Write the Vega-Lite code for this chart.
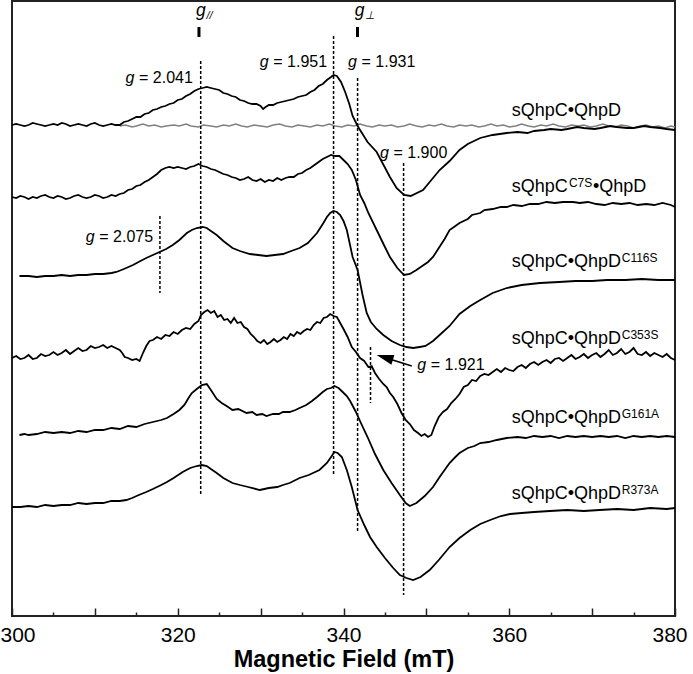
{
"$schema":"https://vega.github.io/schema/vega-lite/v6.json",
"width":663,"height":615,
"autosize":{"type":"none"},
"padding":{"left":12,"top":1,"right":18,"bottom":58},
"background":"white",
"config":{"view":{"stroke":"#222","strokeWidth":2},"font":"Liberation Sans"},
"datasets":{
"buffer":[{"f":313,"v":490},{"f":313.7,"v":491},{"f":314.5,"v":489},{"f":315,"v":490},{"f":315.8,"v":492},{"f":316.5,"v":490},{"f":317.2,"v":491},{"f":318,"v":489},{"f":318.6,"v":490},{"f":319.5,"v":491},{"f":320.2,"v":490},{"f":321,"v":492},{"f":321.6,"v":490},{"f":322.5,"v":489},{"f":323.1,"v":491},{"f":324,"v":490},{"f":324.7,"v":489},{"f":325.5,"v":491},{"f":326.2,"v":490},{"f":327,"v":492},{"f":327.7,"v":490},{"f":328.4,"v":489},{"f":329.2,"v":491},{"f":330,"v":490},{"f":330.8,"v":489},{"f":331.5,"v":491},{"f":332.3,"v":492},{"f":333,"v":490},{"f":333.8,"v":489},{"f":334.5,"v":491},{"f":335.3,"v":490},{"f":336,"v":489},{"f":336.8,"v":491},{"f":337.5,"v":490},{"f":338.3,"v":492},{"f":339,"v":490},{"f":339.8,"v":489},{"f":340.5,"v":491},{"f":341.3,"v":490},{"f":342,"v":492},{"f":342.8,"v":490},{"f":343.5,"v":489},{"f":344.3,"v":491},{"f":345,"v":490},{"f":345.8,"v":491},{"f":346.5,"v":489},{"f":347.3,"v":490},{"f":348,"v":492},{"f":348.8,"v":490},{"f":349.5,"v":489},{"f":350.3,"v":491},{"f":351,"v":490},{"f":351.8,"v":492},{"f":352.5,"v":490},{"f":353.3,"v":489},{"f":354,"v":491},{"f":354.8,"v":490},{"f":355.5,"v":491},{"f":356.3,"v":489},{"f":357,"v":490},{"f":357.8,"v":492},{"f":358.5,"v":490},{"f":359.3,"v":491},{"f":360,"v":489},{"f":360.8,"v":490},{"f":361.5,"v":492},{"f":362.3,"v":490},{"f":363,"v":489},{"f":363.8,"v":491},{"f":364.5,"v":490},{"f":365.3,"v":492},{"f":366,"v":490},{"f":366.8,"v":489},{"f":367.5,"v":491},{"f":368.3,"v":490},{"f":369,"v":491},{"f":369.8,"v":489},{"f":370.5,"v":490},{"f":371.3,"v":492},{"f":372,"v":490},{"f":372.8,"v":489},{"f":373.5,"v":491},{"f":374.3,"v":490},{"f":375,"v":488},{"f":375.8,"v":490},{"f":376.5,"v":491},{"f":377.3,"v":489},{"f":378,"v":490},{"f":378.8,"v":488},{"f":379.5,"v":490},{"f":380,"v":489}],
"wt":[{"f":300,"v":491},{"f":300.5,"v":492},{"f":301,"v":491},{"f":301.5,"v":490},{"f":302,"v":491},{"f":302.5,"v":493},{"f":303,"v":492},{"f":303.5,"v":491},{"f":304,"v":490},{"f":304.5,"v":491},{"f":305,"v":492},{"f":305.5,"v":491},{"f":306,"v":493},{"f":306.5,"v":492},{"f":307,"v":490},{"f":307.5,"v":491},{"f":308,"v":492},{"f":308.5,"v":491},{"f":309,"v":490},{"f":309.5,"v":492},{"f":310,"v":493},{"f":310.5,"v":491},{"f":311,"v":490},{"f":311.5,"v":491},{"f":312,"v":492},{"f":312.5,"v":491},{"f":313,"v":491},{"f":313.5,"v":494},{"f":314,"v":495},{"f":314.5,"v":497},{"f":315,"v":499},{"f":315.5,"v":499},{"f":316,"v":502},{"f":316.5,"v":503},{"f":317,"v":506},{"f":317.5,"v":507},{"f":318,"v":509},{"f":318.5,"v":510},{"f":319,"v":512},{"f":319.5,"v":513},{"f":320,"v":516},{"f":320.5,"v":517},{"f":321,"v":520},{"f":321.5,"v":522},{"f":322,"v":525},{"f":322.5,"v":527},{"f":323,"v":528},{"f":323.5,"v":529},{"f":324,"v":528},{"f":324.5,"v":527},{"f":325,"v":526},{"f":325.5,"v":523},{"f":326,"v":522},{"f":326.5,"v":520},{"f":327,"v":519},{"f":327.5,"v":516},{"f":328,"v":515},{"f":328.5,"v":513},{"f":329,"v":512},{"f":329.5,"v":512},{"f":330,"v":510},{"f":330.3,"v":507},{"f":330.6,"v":509},{"f":331,"v":511},{"f":331.5,"v":511},{"f":332,"v":513},{"f":332.5,"v":514},{"f":333,"v":515},{"f":333.5,"v":516},{"f":334,"v":517},{"f":334.5,"v":519},{"f":335,"v":520},{"f":335.5,"v":521},{"f":336,"v":524},{"f":336.5,"v":526},{"f":337,"v":530},{"f":337.5,"v":532},{"f":338,"v":536},{"f":338.5,"v":539},{"f":338.8,"v":541},{"f":339.2,"v":540},{"f":339.7,"v":534},{"f":340.2,"v":524},{"f":340.7,"v":512},{"f":341.1,"v":500},{"f":341.7,"v":490},{"f":342.3,"v":482},{"f":342.9,"v":474},{"f":344,"v":464},{"f":344.9,"v":450},{"f":345.6,"v":439},{"f":346.4,"v":428},{"f":347.3,"v":421},{"f":348.1,"v":420},{"f":349.6,"v":426},{"f":350.5,"v":435},{"f":351.6,"v":446},{"f":352.8,"v":455},{"f":354,"v":466},{"f":355,"v":472},{"f":356.5,"v":478},{"f":358,"v":481},{"f":359.7,"v":483},{"f":361,"v":484},{"f":362.2,"v":483},{"f":363,"v":485},{"f":364.2,"v":486},{"f":365,"v":487},{"f":366.3,"v":486},{"f":367,"v":487},{"f":368.2,"v":489},{"f":369,"v":488},{"f":370.3,"v":487},{"f":371,"v":488},{"f":372.2,"v":490},{"f":373,"v":489},{"f":374.2,"v":488},{"f":375,"v":488},{"f":376.3,"v":490},{"f":377,"v":489},{"f":378.2,"v":488},{"f":379,"v":487},{"f":380,"v":486}],
"c7s":[{"f":300,"v":419},{"f":300.5,"v":418},{"f":301,"v":420},{"f":301.5,"v":419},{"f":302,"v":417},{"f":302.5,"v":419},{"f":303,"v":418},{"f":303.5,"v":420},{"f":304,"v":421},{"f":304.5,"v":419},{"f":305,"v":418},{"f":305.5,"v":420},{"f":306,"v":419},{"f":306.5,"v":417},{"f":307,"v":418},{"f":307.5,"v":420},{"f":308,"v":421},{"f":308.5,"v":419},{"f":309,"v":418},{"f":309.5,"v":419},{"f":310,"v":421},{"f":310.5,"v":420},{"f":311,"v":418},{"f":311.5,"v":419},{"f":312,"v":421},{"f":312.5,"v":420},{"f":313,"v":422},{"f":313.5,"v":423},{"f":314,"v":426},{"f":314.5,"v":427},{"f":315,"v":430},{"f":315.5,"v":431},{"f":316,"v":434},{"f":316.5,"v":436},{"f":317,"v":439},{"f":317.5,"v":442},{"f":318,"v":446},{"f":318.5,"v":448},{"f":319,"v":449},{"f":319.5,"v":448},{"f":320,"v":449},{"f":320.5,"v":448},{"f":321,"v":447},{"f":321.5,"v":449},{"f":322,"v":450},{"f":322.5,"v":452},{"f":323,"v":450},{"f":323.5,"v":449},{"f":324,"v":447},{"f":324.5,"v":446},{"f":325,"v":444},{"f":325.5,"v":442},{"f":326,"v":441},{"f":326.5,"v":439},{"f":327,"v":438},{"f":327.5,"v":436},{"f":328,"v":437},{"f":328.5,"v":439},{"f":329,"v":436},{"f":329.5,"v":435},{"f":330,"v":437},{"f":330.5,"v":434},{"f":331,"v":436},{"f":331.5,"v":435},{"f":332,"v":438},{"f":332.5,"v":436},{"f":333,"v":438},{"f":333.5,"v":439},{"f":334,"v":439},{"f":334.5,"v":442},{"f":335,"v":443},{"f":335.5,"v":446},{"f":336,"v":448},{"f":336.5,"v":451},{"f":337,"v":454},{"f":337.5,"v":457},{"f":338,"v":459},{"f":338.5,"v":461},{"f":339,"v":460},{"f":339.5,"v":460},{"f":340,"v":456},{"f":340.5,"v":452},{"f":341,"v":446},{"f":341.5,"v":436},{"f":342,"v":421},{"f":342.5,"v":413},{"f":343,"v":403},{"f":344,"v":386},{"f":345,"v":369},{"f":345.6,"v":359},{"f":346.5,"v":348},{"f":347.3,"v":341},{"f":348,"v":342},{"f":348.8,"v":346},{"f":349.5,"v":350},{"f":350.2,"v":354},{"f":350.8,"v":359},{"f":351.5,"v":368},{"f":352.2,"v":377},{"f":352.8,"v":386},{"f":353.5,"v":390},{"f":354,"v":393},{"f":355,"v":397},{"f":355.5,"v":401},{"f":356.5,"v":403},{"f":357,"v":406},{"f":358,"v":407},{"f":359,"v":409},{"f":359.7,"v":409},{"f":360.5,"v":411},{"f":361.5,"v":410},{"f":362.5,"v":412},{"f":363.5,"v":412},{"f":364.5,"v":414},{"f":365.5,"v":413},{"f":366.5,"v":414},{"f":367.7,"v":414},{"f":368.5,"v":413},{"f":369.5,"v":414},{"f":370.5,"v":412},{"f":371.5,"v":411},{"f":372.5,"v":413},{"f":373.5,"v":412},{"f":374.5,"v":413},{"f":375.5,"v":411},{"f":376.5,"v":412},{"f":377.5,"v":411},{"f":378.5,"v":413},{"f":379.5,"v":411},{"f":380,"v":409}],
"c116s":[{"f":300.9,"v":340},{"f":302,"v":340},{"f":303,"v":339},{"f":304,"v":340},{"f":305,"v":340},{"f":306,"v":341},{"f":307,"v":340},{"f":308,"v":341},{"f":309,"v":341},{"f":310,"v":342},{"f":311,"v":342},{"f":312,"v":343},{"f":312.6,"v":344},{"f":313.5,"v":347},{"f":314.6,"v":351},{"f":315.5,"v":355},{"f":316.2,"v":358},{"f":317,"v":361},{"f":317.8,"v":364},{"f":318.6,"v":367},{"f":319.4,"v":371},{"f":320.2,"v":376},{"f":321.1,"v":383},{"f":321.7,"v":386},{"f":322.3,"v":388},{"f":323,"v":389},{"f":323.5,"v":388},{"f":324,"v":385},{"f":324.7,"v":381},{"f":325.5,"v":375},{"f":326.6,"v":368},{"f":327.5,"v":365},{"f":328.7,"v":362},{"f":329.7,"v":361},{"f":330.7,"v":360},{"f":331.7,"v":361},{"f":332.7,"v":362},{"f":333.7,"v":365},{"f":334.7,"v":368},{"f":335.7,"v":373},{"f":336.8,"v":383},{"f":337.5,"v":392},{"f":338,"v":399},{"f":338.4,"v":403},{"f":338.8,"v":405},{"f":339.2,"v":404},{"f":339.6,"v":401},{"f":340,"v":395},{"f":340.4,"v":386},{"f":341.1,"v":359},{"f":341.7,"v":346},{"f":342.3,"v":321},{"f":342.8,"v":303},{"f":343.3,"v":294},{"f":344,"v":287},{"f":344.8,"v":281},{"f":345.8,"v":275},{"f":346.8,"v":271},{"f":347.6,"v":269},{"f":348.4,"v":268},{"f":349.2,"v":269},{"f":349.9,"v":270},{"f":350.8,"v":275},{"f":351.6,"v":281},{"f":352.8,"v":290},{"f":354,"v":302},{"f":355.3,"v":310},{"f":356.5,"v":316},{"f":358,"v":323},{"f":359.7,"v":328},{"f":361.5,"v":331},{"f":363.7,"v":333},{"f":366,"v":334},{"f":368,"v":335},{"f":370,"v":335},{"f":371.8,"v":336},{"f":374,"v":336},{"f":376,"v":337},{"f":378,"v":336},{"f":380,"v":336}],
"c353s":[{"f":300,"v":258},{"f":300.5,"v":260},{"f":301,"v":257},{"f":301.5,"v":258},{"f":302,"v":261},{"f":302.5,"v":257},{"f":303,"v":258},{"f":303.5,"v":262},{"f":304,"v":260},{"f":304.5,"v":261},{"f":305,"v":264},{"f":305.5,"v":261},{"f":306,"v":263},{"f":306.5,"v":266},{"f":307,"v":262},{"f":307.5,"v":265},{"f":308,"v":268},{"f":308.5,"v":265},{"f":309,"v":266},{"f":309.5,"v":270},{"f":310,"v":268},{"f":310.5,"v":269},{"f":311,"v":271},{"f":311.5,"v":268},{"f":312,"v":270},{"f":312.5,"v":268},{"f":313,"v":266},{"f":313.3,"v":263},{"f":313.6,"v":259},{"f":314,"v":258},{"f":314.5,"v":256},{"f":315,"v":257},{"f":315.4,"v":255},{"f":315.8,"v":263},{"f":316.2,"v":270},{"f":316.6,"v":275},{"f":317,"v":276},{"f":317.5,"v":279},{"f":318,"v":277},{"f":318.5,"v":281},{"f":319,"v":280},{"f":319.5,"v":284},{"f":320,"v":282},{"f":320.5,"v":286},{"f":321,"v":288},{"f":321.5,"v":287},{"f":322,"v":292},{"f":322.5,"v":295},{"f":322.8,"v":301},{"f":323.2,"v":304},{"f":323.6,"v":306},{"f":324,"v":303},{"f":324.4,"v":305},{"f":324.8,"v":299},{"f":325.2,"v":301},{"f":325.6,"v":296},{"f":326,"v":297},{"f":326.4,"v":293},{"f":326.8,"v":298},{"f":327.2,"v":293},{"f":327.6,"v":294},{"f":328,"v":289},{"f":328.4,"v":287},{"f":328.8,"v":282},{"f":329.2,"v":279},{"f":329.6,"v":275},{"f":330,"v":273},{"f":330.4,"v":276},{"f":330.8,"v":272},{"f":331.2,"v":274},{"f":331.6,"v":277},{"f":332,"v":274},{"f":332.4,"v":276},{"f":332.8,"v":279},{"f":333.2,"v":277},{"f":333.6,"v":282},{"f":334,"v":280},{"f":334.4,"v":284},{"f":334.8,"v":282},{"f":335.2,"v":285},{"f":335.6,"v":287},{"f":336,"v":286},{"f":336.4,"v":291},{"f":336.8,"v":294},{"f":337.2,"v":293},{"f":337.6,"v":298},{"f":338,"v":299},{"f":338.4,"v":302},{"f":338.8,"v":300},{"f":339.2,"v":299},{"f":339.6,"v":293},{"f":340,"v":287},{"f":340.5,"v":279},{"f":341,"v":269},{"f":341.5,"v":264},{"f":342,"v":258},{"f":342.5,"v":255},{"f":343,"v":249},{"f":343.4,"v":250},{"f":343.8,"v":243},{"f":344.3,"v":237},{"f":344.8,"v":232},{"f":345.2,"v":229},{"f":345.6,"v":223},{"f":346,"v":219},{"f":346.5,"v":212},{"f":347,"v":203},{"f":347.5,"v":196},{"f":348,"v":192},{"f":348.5,"v":186},{"f":349,"v":183},{"f":349.4,"v":180},{"f":349.8,"v":182},{"f":350.2,"v":179},{"f":350.6,"v":181},{"f":351,"v":190},{"f":351.5,"v":199},{"f":352,"v":204},{"f":352.5,"v":207},{"f":353,"v":213},{"f":353.5,"v":217},{"f":354,"v":222},{"f":354.5,"v":229},{"f":355,"v":231},{"f":355.5,"v":236},{"f":356,"v":235},{"f":356.5,"v":240},{"f":357,"v":242},{"f":357.5,"v":241},{"f":358,"v":244},{"f":358.5,"v":247},{"f":359,"v":244},{"f":359.5,"v":248},{"f":360,"v":246},{"f":360.5,"v":245},{"f":361,"v":249},{"f":361.5,"v":251},{"f":362,"v":248},{"f":362.5,"v":252},{"f":363,"v":254},{"f":363.5,"v":251},{"f":364,"v":254},{"f":364.5,"v":256},{"f":365,"v":253},{"f":365.5,"v":257},{"f":366,"v":258},{"f":366.5,"v":255},{"f":367,"v":258},{"f":367.5,"v":261},{"f":368,"v":257},{"f":368.5,"v":259},{"f":369,"v":262},{"f":369.5,"v":258},{"f":370,"v":261},{"f":370.5,"v":263},{"f":371,"v":259},{"f":371.5,"v":262},{"f":372,"v":266},{"f":372.5,"v":261},{"f":373,"v":263},{"f":373.5,"v":267},{"f":374,"v":262},{"f":374.5,"v":264},{"f":375,"v":268},{"f":375.5,"v":262},{"f":376,"v":261},{"f":376.5,"v":264},{"f":377,"v":260},{"f":377.5,"v":263},{"f":378,"v":261},{"f":378.5,"v":259},{"f":379,"v":262},{"f":379.5,"v":258},{"f":380,"v":256}],
"g161a":[{"f":300.9,"v":181},{"f":301.5,"v":182},{"f":302,"v":181},{"f":303,"v":182},{"f":304,"v":184},{"f":305,"v":183},{"f":306,"v":184},{"f":307,"v":183},{"f":308,"v":185},{"f":309,"v":184},{"f":310,"v":186},{"f":311,"v":186},{"f":312,"v":188},{"f":313,"v":187},{"f":314,"v":190},{"f":315,"v":189},{"f":316,"v":192},{"f":317,"v":194},{"f":318,"v":196},{"f":318.7,"v":198},{"f":319.5,"v":202},{"f":320.2,"v":206},{"f":320.8,"v":211},{"f":321.3,"v":218},{"f":321.7,"v":223},{"f":322.3,"v":227},{"f":322.9,"v":231},{"f":323.5,"v":232},{"f":324,"v":226},{"f":324.7,"v":217},{"f":325.3,"v":213},{"f":325.9,"v":210},{"f":326.6,"v":206},{"f":327.3,"v":207},{"f":328.3,"v":203},{"f":329,"v":204},{"f":329.5,"v":201},{"f":330.2,"v":202},{"f":330.7,"v":200},{"f":331.5,"v":202},{"f":332.2,"v":202},{"f":332.7,"v":204},{"f":333.5,"v":204},{"f":334.2,"v":206},{"f":334.7,"v":208},{"f":335.5,"v":211},{"f":336.2,"v":215},{"f":336.8,"v":219},{"f":337.5,"v":224},{"f":338,"v":227},{"f":338.5,"v":228},{"f":338.9,"v":230},{"f":339.4,"v":228},{"f":339.9,"v":224},{"f":340.4,"v":220},{"f":340.8,"v":215},{"f":341.5,"v":204},{"f":342.1,"v":193},{"f":342.9,"v":179},{"f":343.8,"v":162},{"f":344.8,"v":146},{"f":345.8,"v":133},{"f":346.8,"v":121},{"f":347.5,"v":113},{"f":348,"v":110},{"f":348.8,"v":113},{"f":349.8,"v":120},{"f":350.8,"v":129},{"f":351.6,"v":139},{"f":352.2,"v":146},{"f":352.8,"v":153},{"f":353.5,"v":159},{"f":354,"v":163},{"f":355,"v":168},{"f":355.8,"v":170},{"f":356.5,"v":173},{"f":357.5,"v":174},{"f":358.5,"v":176},{"f":359.7,"v":178},{"f":361,"v":179},{"f":362,"v":178},{"f":363,"v":180},{"f":364,"v":179},{"f":365,"v":180},{"f":366,"v":178},{"f":367,"v":180},{"f":368,"v":179},{"f":369,"v":180},{"f":370,"v":179},{"f":371,"v":180},{"f":372,"v":179},{"f":373,"v":180},{"f":374,"v":178},{"f":375,"v":180},{"f":376,"v":179},{"f":377,"v":180},{"f":378,"v":179},{"f":379,"v":180},{"f":380,"v":179}],
"r373a":[{"f":300,"v":109},{"f":301,"v":109},{"f":302,"v":110},{"f":303,"v":109},{"f":304,"v":111},{"f":305,"v":110},{"f":306,"v":111},{"f":307,"v":111},{"f":308,"v":113},{"f":309,"v":112},{"f":310,"v":113},{"f":311,"v":113},{"f":312,"v":115},{"f":313,"v":115},{"f":313.8,"v":116},{"f":314.5,"v":118},{"f":315.3,"v":121},{"f":316.2,"v":124},{"f":317,"v":127},{"f":318,"v":131},{"f":318.7,"v":134},{"f":319.5,"v":138},{"f":320.6,"v":144},{"f":321.5,"v":148},{"f":322.3,"v":150},{"f":322.9,"v":151},{"f":323.5,"v":150},{"f":324,"v":147},{"f":324.7,"v":143},{"f":325.5,"v":138},{"f":326.6,"v":133},{"f":327.5,"v":131},{"f":328.5,"v":129},{"f":329.9,"v":126},{"f":331,"v":128},{"f":332,"v":129},{"f":332.7,"v":131},{"f":333.5,"v":133},{"f":334.7,"v":138},{"f":335.8,"v":141},{"f":337.1,"v":146},{"f":338,"v":153},{"f":338.5,"v":159},{"f":338.9,"v":164},{"f":339.3,"v":163},{"f":339.8,"v":159},{"f":340.4,"v":146},{"f":341,"v":129},{"f":341.7,"v":106},{"f":342.5,"v":91},{"f":343.2,"v":79},{"f":344,"v":69},{"f":345,"v":58},{"f":346,"v":48},{"f":346.8,"v":41},{"f":347.6,"v":38},{"f":348.4,"v":36},{"f":349.3,"v":39},{"f":350.4,"v":46},{"f":351.5,"v":56},{"f":352.8,"v":69},{"f":354,"v":78},{"f":355.3,"v":86},{"f":356.5,"v":92},{"f":357.7,"v":96},{"f":359,"v":100},{"f":360.1,"v":102},{"f":361.5,"v":103},{"f":363,"v":104},{"f":364.9,"v":105},{"f":367,"v":106},{"f":369,"v":105},{"f":370.9,"v":106},{"f":373,"v":107},{"f":375,"v":106},{"f":377,"v":108},{"f":379,"v":107},{"f":380,"v":108}],
"dash":[{"f":322.77,"v":555,"v2":121},{"f":338.8,"v":580,"v2":140},{"f":341.7,"v":538,"v2":83},{"f":347.25,"v":453,"v2":21},{"f":317.85,"v":400,"v2":323},{"f":343.26,"v":269,"v2":213}],
"bars":[{"f":322.56,"v":589,"v2":579},{"f":341.69,"v":589,"v2":579}],
"heads":[{"f":322.56,"v":600,"t":"g","sub":"//","sv":597},{"f":341.69,"v":600,"t":"g","sub":"⊥","sv":597}],
"glab":[{"f":313.7,"v":533,"t":"= 2.041"},{"f":329.9,"v":549,"t":"= 1.951"},{"f":340.55,"v":549,"t":"= 1.931"},{"f":344.4,"v":458,"t":"= 1.900"},{"f":308.9,"v":374,"t":"= 2.075"},{"f":348.9,"v":246,"t":"= 1.921"}],
"arrow":[{"f":344.4,"v":260,"f2":348.24,"v2":250}],
"arrowhead":[{"f":344.0,"v":261}],
"labels":[{"f":360.3,"v":500,"t":"sQhpC•QhpD"},{"f":360.3,"v":424,"t":"sQhpC"},{"f":370.1,"v":424,"t":"•QhpD"},{"f":360.3,"v":349,"t":"sQhpC•QhpD"},{"f":360.3,"v":272,"t":"sQhpC•QhpD"},{"f":360.3,"v":193,"t":"sQhpC•QhpD"},{"f":360.3,"v":117,"t":"sQhpC•QhpD"}],
"sups":[{"f":367.2,"v":429,"t":"C7S"},{"f":373.57,"v":354,"t":"C116S"},{"f":373.57,"v":277,"t":"C353S"},{"f":373.57,"v":198,"t":"G161A"},{"f":373.57,"v":122,"t":"R373A"}]
},
"layer":[
{"data":{"name":"buffer"},"mark":{"type":"line","color":"#808080","strokeWidth":1.5},
 "encoding":{"x":{"field":"f","type":"quantitative","scale":{"domain":[300,380],"nice":false,"zero":false},
   "axis":{"values":[300,305,310,315,320,325,330,335,340,345,350,355,360,365,370,375,380],
     "labelExpr":"datum.value % 20 === 0 ? datum.label : ''",
     "tickSize":{"condition":{"test":"datum.value % 10 === 0","value":-8},"value":-4},
     "tickColor":"#222","tickWidth":1.5,"domain":false,"grid":false,"labelFlush":true,"labelFlushOffset":12,
     "labelFontSize":21,"labelColor":"black","labelPadding":16,
     "title":"Magnetic Field (mT)","titleFont":"Liberation Sans","titleFontWeight":"bold","titleFontSize":23.5,"titleColor":"black","titlePadding":2}},
  "y":{"field":"v","type":"quantitative","scale":{"domain":[0,615],"nice":false,"zero":false},"axis":null}}},
{"data":{"name":"wt"},"mark":{"type":"line","color":"black","strokeWidth":1.8},"encoding":{"x":{"field":"f","type":"quantitative"},"y":{"field":"v","type":"quantitative"}}},
{"data":{"name":"c7s"},"mark":{"type":"line","color":"black","strokeWidth":1.8},"encoding":{"x":{"field":"f","type":"quantitative"},"y":{"field":"v","type":"quantitative"}}},
{"data":{"name":"c116s"},"mark":{"type":"line","color":"black","strokeWidth":1.8},"encoding":{"x":{"field":"f","type":"quantitative"},"y":{"field":"v","type":"quantitative"}}},
{"data":{"name":"c353s"},"mark":{"type":"line","color":"black","strokeWidth":1.8},"encoding":{"x":{"field":"f","type":"quantitative"},"y":{"field":"v","type":"quantitative"}}},
{"data":{"name":"g161a"},"mark":{"type":"line","color":"black","strokeWidth":1.8},"encoding":{"x":{"field":"f","type":"quantitative"},"y":{"field":"v","type":"quantitative"}}},
{"data":{"name":"r373a"},"mark":{"type":"line","color":"black","strokeWidth":1.8},"encoding":{"x":{"field":"f","type":"quantitative"},"y":{"field":"v","type":"quantitative"}}},
{"data":{"name":"dash"},"mark":{"type":"rule","color":"black","strokeWidth":1.5,"strokeDash":[3,2]},"encoding":{"x":{"field":"f","type":"quantitative"},"y":{"field":"v","type":"quantitative"},"y2":{"field":"v2"}}},
{"data":{"name":"bars"},"mark":{"type":"rule","color":"black","strokeWidth":3},"encoding":{"x":{"field":"f","type":"quantitative"},"y":{"field":"v","type":"quantitative"},"y2":{"field":"v2"}}},
{"data":{"name":"arrow"},"mark":{"type":"rule","color":"black","strokeWidth":1.5},"encoding":{"x":{"field":"f","type":"quantitative"},"y":{"field":"v","type":"quantitative"},"x2":{"field":"f2"},"y2":{"field":"v2"}}},
{"data":{"name":"arrowhead"},"mark":{"type":"point","shape":"M 0 0 L 2 -0.6 L 2 0.6 Z","filled":true,"size":289,"angle":17,"color":"black","opacity":1},"encoding":{"x":{"field":"f","type":"quantitative"},"y":{"field":"v","type":"quantitative"}}},
{"data":{"name":"heads"},"mark":{"type":"text","fontStyle":"italic","fontSize":17.5,"align":"center","baseline":"alphabetic","dx":2,"color":"black"},"encoding":{"x":{"field":"f","type":"quantitative"},"y":{"field":"v","type":"quantitative"},"text":{"field":"t"}}},
{"data":{"name":"heads"},"mark":{"type":"text","fontStyle":"italic","fontSize":11,"align":"left","baseline":"alphabetic","dx":7.5,"color":"black"},"encoding":{"x":{"field":"f","type":"quantitative"},"y":{"field":"sv","type":"quantitative"},"text":{"field":"sub"}}},
{"data":{"name":"glab"},"mark":{"type":"text","fontStyle":"italic","fontSize":16,"align":"left","baseline":"alphabetic","color":"black","text":"g"},"encoding":{"x":{"field":"f","type":"quantitative"},"y":{"field":"v","type":"quantitative"}}},
{"data":{"name":"glab"},"mark":{"type":"text","fontSize":16,"align":"left","baseline":"alphabetic","dx":13.5,"color":"black"},"encoding":{"x":{"field":"f","type":"quantitative"},"y":{"field":"v","type":"quantitative"},"text":{"field":"t"}}},
{"data":{"name":"labels"},"mark":{"type":"text","fontSize":18,"align":"left","baseline":"alphabetic","color":"black"},"encoding":{"x":{"field":"f","type":"quantitative"},"y":{"field":"v","type":"quantitative"},"text":{"field":"t"}}},
{"data":{"name":"sups"},"mark":{"type":"text","fontSize":12,"align":"left","baseline":"alphabetic","color":"black"},"encoding":{"x":{"field":"f","type":"quantitative"},"y":{"field":"v","type":"quantitative"},"text":{"field":"t"}}}
]
}
